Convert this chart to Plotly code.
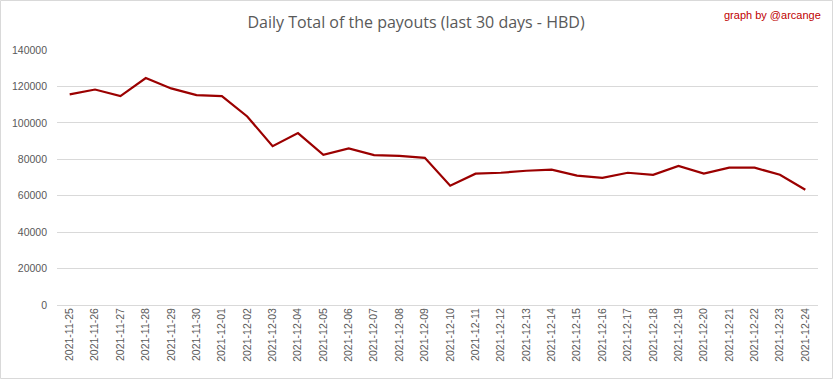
import plotly.graph_objects as go

dates = ["2021-11-25", "2021-11-26", "2021-11-27", "2021-11-28", "2021-11-29", "2021-11-30",
         "2021-12-01", "2021-12-02", "2021-12-03", "2021-12-04", "2021-12-05", "2021-12-06",
         "2021-12-07", "2021-12-08", "2021-12-09", "2021-12-10", "2021-12-11", "2021-12-12",
         "2021-12-13", "2021-12-14", "2021-12-15", "2021-12-16", "2021-12-17", "2021-12-18",
         "2021-12-19", "2021-12-20", "2021-12-21", "2021-12-22", "2021-12-23", "2021-12-24"]
payouts = [115600, 118300, 114700, 124600, 118900, 115200,
           114700, 103500, 87200, 94400, 82400, 86000,
           82300, 81900, 80800, 65500, 72100, 72600,
           73700, 74300, 71000, 69800, 72600, 71500,
           76400, 72100, 75400, 75400, 71500, 63300]
y_ticks = [0, 20000, 40000, 60000, 80000, 100000, 120000, 140000]

W, H = 833, 379
ml, mr, mt, mb = 57, 15, 50, 74
pw, ph = W - ml - mr, H - mt - mb

fig = go.Figure(go.Scatter(
    x=dates, y=payouts, mode="lines",
    line=dict(color="#9b0000", width=2.2),
))

fig.update_layout(
    width=W, height=H,
    margin=dict(l=ml, r=mr, t=mt, b=mb, autoexpand=False),
    paper_bgcolor="white", plot_bgcolor="white",
    showlegend=False,
    title=dict(text="Daily Total of the payouts (last 30 days - HBD)",
               x=416 / W, xanchor="center", y=1 - 22 / H, yanchor="middle",
               font=dict(family="Open Sans, sans-serif", size=16, color="#595959")),
    xaxis=dict(type="category", tickangle=-90, showgrid=False, showline=False, automargin=False,
               ticks="", tickfont=dict(family="Liberation Sans, Arial, sans-serif", size=10.5, color="#595959"),
               range=[-0.5, len(dates) - 0.5]),
    yaxis=dict(range=[0, 140000], tickvals=y_ticks, ticktext=[str(v) for v in y_ticks],
               showgrid=True, gridcolor="#d9d9d9", gridwidth=1, zeroline=True, automargin=False,
               zerolinecolor="#d9d9d9", zerolinewidth=1, ticks="",
               tickfont=dict(family="Liberation Sans, Arial, sans-serif", size=10.5, color="#595959"),
               ticklabelstandoff=9),
    annotations=[dict(text="graph by @arcange", xref="paper", yref="paper",
                      x=(W - 10 - ml) / pw, y=1 + (mt - 15) / ph, xanchor="right", yanchor="middle",
                      showarrow=False,
                      font=dict(family="Liberation Sans, Arial, sans-serif", size=11, color="#c00000"))],
    shapes=[dict(type="rect", xref="paper", yref="paper",
                 x0=-(ml - 0.5) / pw, x1=1 + (mr - 0.5) / pw,
                 y0=-(mb - 0.5) / ph, y1=1 + (mt - 0.5) / ph,
                 line=dict(color="#d9d9d9", width=1))],
)

fig.write_html("out.html", config={"displayModeBar": False},
               post_script="document.body.style.margin='0';document.body.style.overflow='hidden';")
